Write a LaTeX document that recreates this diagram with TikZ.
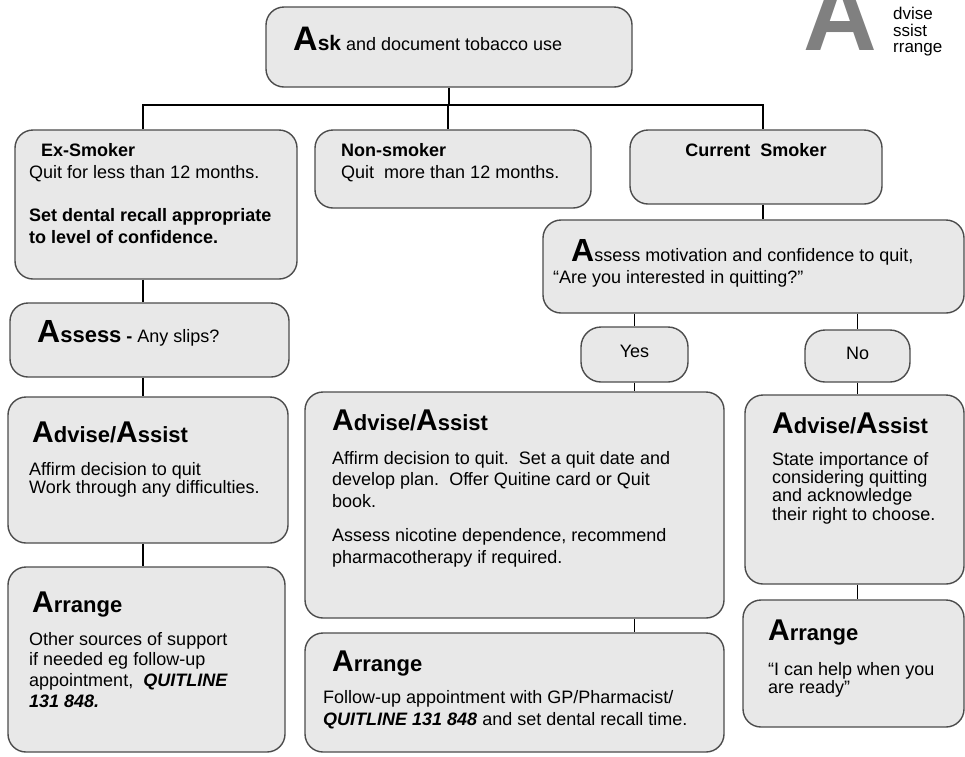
\documentclass[tikz,border=0pt]{standalone}
\usepackage{fontspec}
\setmainfont{Liberation Sans}

\newcommand{\bigA}[1][30]{{\fontsize{#1}{#1}\selectfont\bfseries A}}
\newcommand{\hd}{\fontsize{22}{24}\selectfont\bfseries}
\newcommand{\rows}[1]{\begin{tabular}[t]{@{}l@{}}#1\end{tabular}}
\newcommand{\qline}[1]{\textbf{\textit{#1}}}

\begin{document}
\begin{tikzpicture}[x=1pt,y=-1pt,
  box/.style={draw=black!70, line width=1.4pt, fill=black!9, rounded corners=18pt, inner sep=0pt},
  txt/.style={inner sep=0pt, anchor=base west, font=\fontsize{18}{21}\selectfont},
  link/.style={line width=1.2pt}]
  \useasboundingbox (0,0) rectangle (965,756);

  % boxes
  \node[box, minimum width=366pt, minimum height=80pt] (ask) at (449,47) {};
  \node[box, minimum width=282pt, minimum height=149pt] (ex) at (156,204.5) {};
  \node[box, minimum width=276pt, minimum height=78pt] (non) at (453,169) {};
  \node[box, minimum width=252pt, minimum height=74pt] (cur) at (756,167) {};
  \node[box, minimum width=421pt, minimum height=93pt] (asm) at (753.5,266.5) {};
  \node[box, minimum width=279pt, minimum height=74pt] (asl) at (149.5,340) {};
  \node[box, minimum width=107pt, minimum height=55pt, rounded corners=20pt] (yes) at (634.5,354.5) {};
  \node[box, minimum width=105pt, minimum height=52pt, rounded corners=20pt] (no) at (857.5,356) {};
  \node[box, minimum width=280pt, minimum height=146pt] (advL) at (148,470) {};
  \node[box, minimum width=277pt, minimum height=185pt] (arrL) at (146.5,659.5) {};
  \node[box, minimum width=419pt, minimum height=226pt] (advM) at (514.5,505) {};
  \node[box, minimum width=419pt, minimum height=119pt] (arrM) at (514.5,692.5) {};
  \node[box, minimum width=219pt, minimum height=189pt] (advR) at (854.5,489.5) {};
  \node[box, minimum width=221pt, minimum height=127pt] (arrR) at (853.5,663.5) {};

  % connectors
  \coordinate (bus) at (448,105);
  \coordinate (colL) at (143,0);
  \coordinate (colR) at (763,0);
  \draw[link] (ask.south) -- (ask.south |- bus);
  \draw[link] (colL |- ex.north) |- (bus) -| (colR |- cur.north);
  \draw[link] (bus) -- (bus |- non.north);
  \draw[link] (colR |- cur.south) -- (colR |- asm.north);
  \draw[link] (colL |- ex.south) -- (colL |- asl.north);
  \draw[link] (colL |- asl.south) -- (colL |- advL.north);
  \draw[link] (colL |- advL.south) -- (colL |- arrL.north);
  \draw[link] (yes |- asm.south) -- (yes.north);
  \draw[link] (no |- asm.south) -- (no.north);
  \draw[link] (yes.south) -- (yes |- advM.north);
  \draw[link] (no.south) -- (no |- advR.north);
  \draw[link] (yes |- advM.south) -- (yes |- arrM.north);
  \draw[link] (no |- advR.south) -- (no |- arrR.north);

  % logo
  \begin{scope}
    \clip (0,0) rectangle (965,756);
    \node[txt, text=black!50] (logoA) at (803,50) {\fontsize{102}{102}\selectfont\bfseries A};
  \end{scope}
  \node[txt, font=\fontsize{17}{16}\selectfont] (logot) at (893,19) {\rows{dvise\\ssist\\rrange}};

  % texts
  \node[txt] (askt) at (293,50) {\bigA[34]{\fontsize{21}{24}\selectfont\bfseries sk} and document tobacco use};

  \node[txt] (exhead) at (41,156) {\bfseries Ex-Smoker};
  \node[txt, font=\fontsize{18}{22}\selectfont] (exbody) at (29,178)
    {\rows{Quit for less than 12 months.\\[21pt]\textbf{Set dental recall appropriate}\\\textbf{to level of confidence.}}};

  \node[txt] (nonhead) at (341,156) {\bfseries Non-smoker};
  \node[txt] (nonbody) at (341,178) {Quit\ \ more than 12 months.};

  \node[txt, anchor=base] (curhead) at (756,156) {\bfseries Current\ \ Smoker};

  \node[txt] (asmt) at (571,261) {\bigA[32]ssess motivation and confidence to quit,};
  \node[txt] (asmq) at (553,283) {“Are you interested in quitting?”};

  \node[txt, anchor=base] (yest) at (634.5,357) {Yes};
  \node[txt, anchor=base] (not) at (857.5,359) {No};

  \node[txt] (aslt) at (37,342) {\bigA[32]{\fontsize{22}{24}\selectfont\bfseries ssess} \textbf{-} Any slips?};

  \node[txt] (advLh) at (32,442) {\bigA{\hd dvise/}\bigA{\hd ssist}};
  \node[txt, font=\fontsize{18}{18}\selectfont] (advLb) at (29,475)
    {\rows{Affirm decision to quit\\Work through any difficulties.}};

  \node[txt] (arrLh) at (32,612) {\bigA{\hd rrange}};
  \node[txt, font=\fontsize{18}{20.7}\selectfont] (arrLb) at (29,645)
    {\rows{Other sources of support\\if needed eg follow-up\\appointment,\ \ \qline{QUITLINE}\\\qline{131 848.}}};

  \node[txt] (advMh) at (332,430) {\bigA{\hd dvise/}\bigA{\hd ssist}};
  \node[txt, font=\fontsize{18}{21.5}\selectfont] (advMb) at (332,464)
    {\rows{Affirm decision to quit.\ \ Set a quit date and\\develop plan.\ \ Offer Quitine card or Quit\\book.\\[13pt]Assess nicotine dependence, recommend\\pharmacotherapy if required.}};

  \node[txt] (arrMh) at (332,671) {\bigA{\hd rrange}};
  \node[txt, font=\fontsize{18}{22}\selectfont] (arrMb) at (323,703)
    {\rows{Follow-up appointment with GP/Pharmacist/\\\qline{QUITLINE 131 848} and set dental recall time.}};

  \node[txt] (advRh) at (772,433) {\bigA{\hd dvise/}\bigA{\hd ssist}};
  \node[txt, font=\fontsize{18}{18}\selectfont] (advRb) at (772,465)
    {\rows{State importance of\\considering quitting\\and acknowledge\\their right to choose.}};

  \node[txt] (arrRh) at (768,640) {\bigA{\hd rrange}};
  \node[txt, font=\fontsize{18}{18}\selectfont] (arrRb) at (768,675)
    {\rows{“I can help when you\\are ready”}};
\end{tikzpicture}
\end{document}
